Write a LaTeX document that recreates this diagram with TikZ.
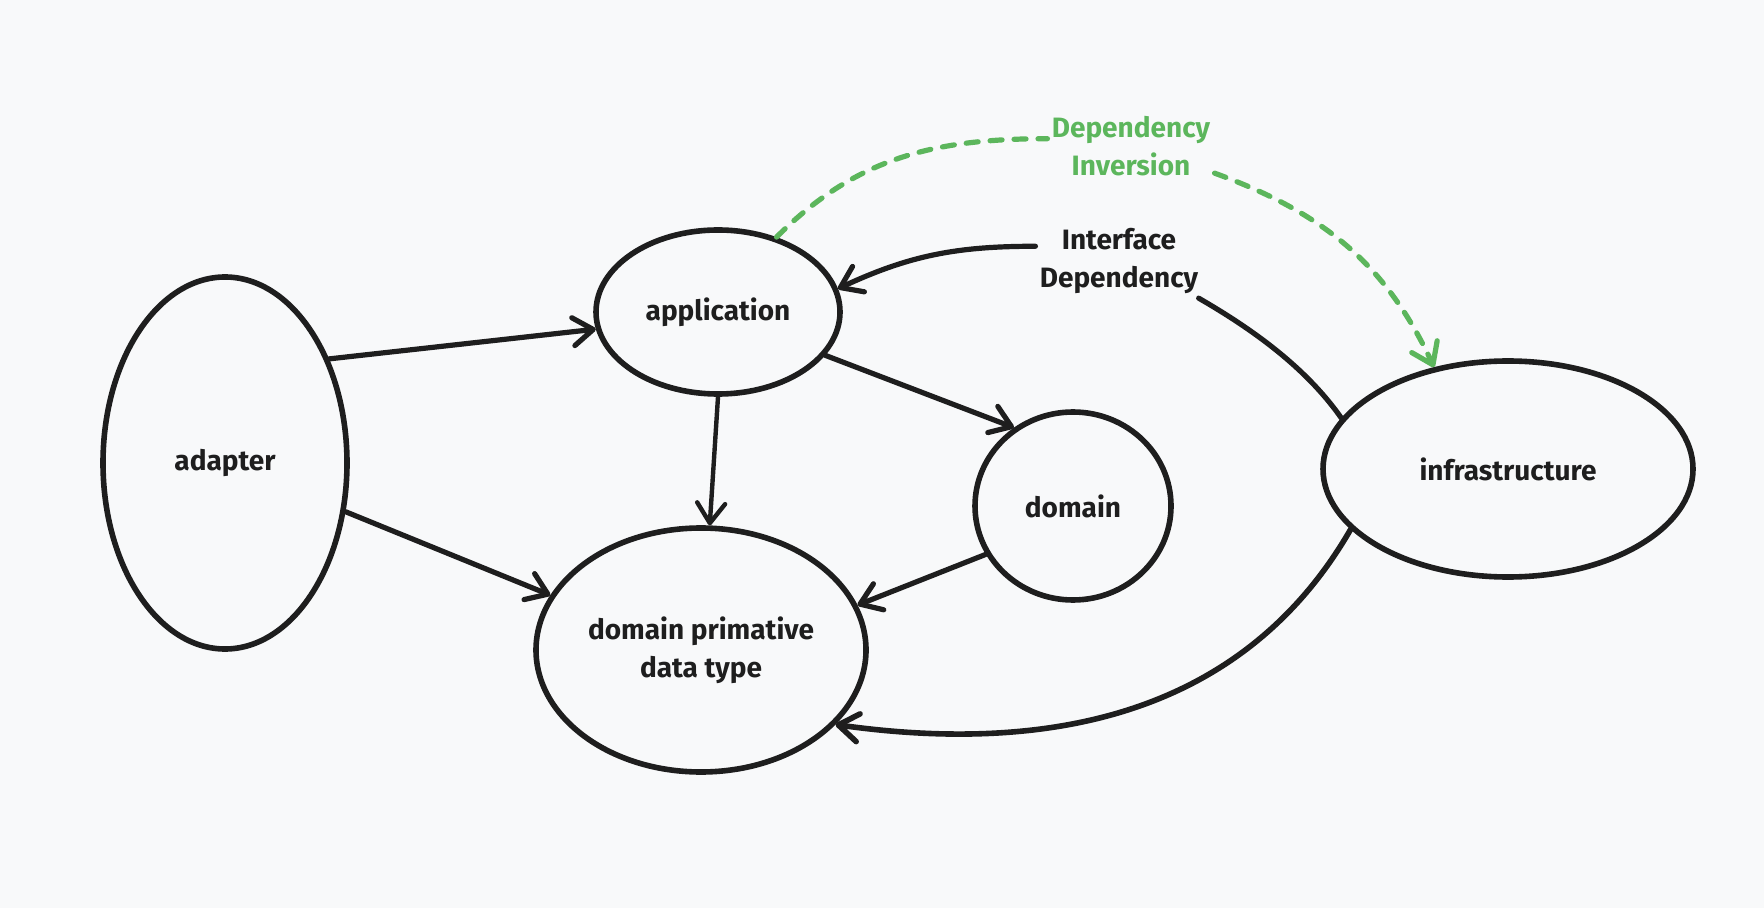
\documentclass[tikz,border=0pt]{standalone}
\usepackage{fontspec}
\setmainfont{Fira Sans}
\usepackage{xcolor}
\usetikzlibrary{arrows.meta,positioning,shapes.geometric}

\definecolor{inkblack}{HTML}{1E1E1E}
\definecolor{invgreen}{RGB}{92,182,92}
\definecolor{paper}{HTML}{F8F9FA}

\tikzset{
    layer/.style={ellipse, draw=inkblack, line width=2.8pt, inner sep=0pt,
        align=center, text=inkblack, font=\bfseries\fontsize{14}{19}\selectfont},
    note/.style={align=center, inner sep=2pt, text=inkblack,
        font=\bfseries\fontsize{14}{19}\selectfont},
    wire/.style={draw=inkblack, line width=2.6pt, line cap=round},
    dep/.style={wire, -{Straight Barb[length=10pt,width=14pt,round]}},
    invdep/.style={draw=invgreen, line width=2.6pt, line cap=round, dash pattern=on 6pt off 6pt},
}

\begin{document}
\begin{tikzpicture}[x=0.5pt, y=-0.5pt]
                % \draw[help lines] (0,0) grid (1764,908);
                \fill[paper] (0,0) rectangle (1764,908);
                \useasboundingbox (0,0) rectangle (1764,908);

                \node[layer, minimum width=122pt, minimum height=186pt] (adapter) at (225,463) {adapter};
                \node[layer, minimum width=122pt, minimum height=82pt] (app) at (718,312) {application};
                \node[layer, minimum width=98pt, minimum height=94pt] (domain) at (1073,506) {domain};
                \node[layer, minimum width=165pt, minimum height=122pt] (prim) at (701,650) {domain primative\\data type};
                \node[layer, minimum width=185pt, minimum height=108pt] (infra) at (1508,469) {infrastructure};

                \node[note] (ifdep) at (1119,261) {Interface\\Dependency};
                \node[note, text=invgreen] (depinv) at (1131,146) {Dependency\\Inversion};

                \draw[dep] (adapter.45) -- (app.188);
                \draw[dep] (adapter.-22) -- (prim.160);
                \draw[dep, line width=2.2pt] (app.south) -- (prim.86);
                \draw[dep] (app.-22) -- (domain.127);
                \draw[dep] (domain.209) -- (prim.16);

                \draw[wire] (infra.163) to[out=125, in=-30, looseness=0.85] (ifdep.-25);
                \draw[dep] (ifdep.170) to[out=180, in=25] (app.11);
                \draw[dep, line width=2.8pt] (infra.201) to[out=240, in=-8] (prim.-29);

                \draw[invdep] (app.52) to[out=45, in=180] (depinv.175);
                \draw[invdep, -{Straight Barb[length=10pt,width=14pt,round]}] (depinv.-18) to[out=-20, in=115] (infra.126);
\end{tikzpicture}
\end{document}
